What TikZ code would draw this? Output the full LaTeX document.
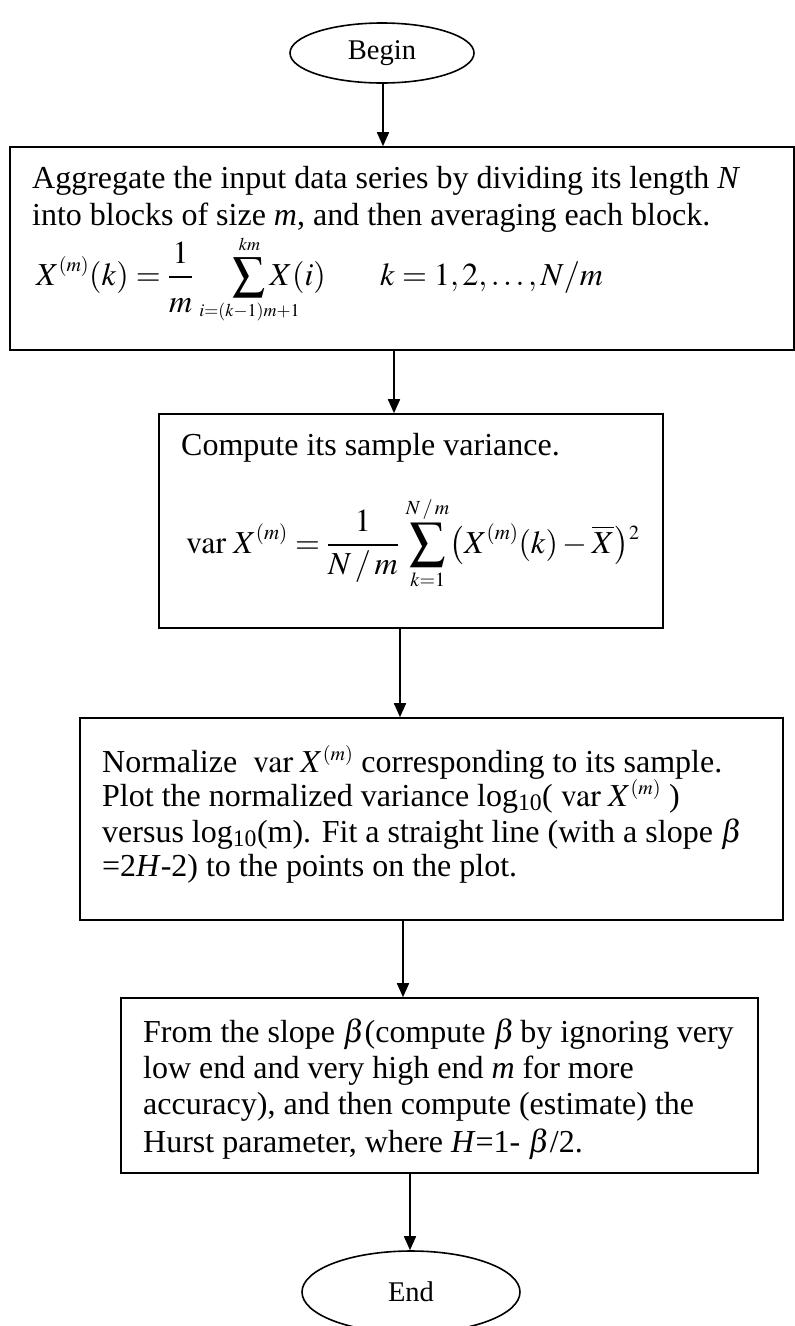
\documentclass[tikz,border=0pt]{standalone}
\usepackage{mathptmx}
\usepackage{graphicx}
\usepackage[no-math]{fontspec}
\setmainfont{Liberation Serif}
\usetikzlibrary{arrows.meta,shapes.geometric}
\newcommand\bigsigma[1]{\mathop{\vcenter{\hbox{\scalebox{#1}{$\textstyle\sum$}}}}}
\newcommand\smm[2]{\hbox{\fontsize{#1}{#1}\selectfont$#2$}}
\newcommand\zclap[2]{\hbox to 0pt{\hss\fontsize{#1}{#1}\selectfont$#2$\hss}}
\begin{document}
\begin{tikzpicture}[x=1pt,y=-1pt,
  box/.style={draw, line width=1.6pt, inner sep=0, minimum width=#1},
  term/.style={draw, ellipse, line width=1.6pt, inner sep=0, font=\fontsize{28.5}{32}\selectfont},
  arr/.style={line width=1.6pt, -{Triangle[length=14pt,width=12pt]}},
  txt/.style={anchor=base west, inner sep=0, font=\fontsize{32}{37}\selectfont}]
\useasboundingbox (0,0) rectangle (795,1326);
% terminals
\node[term, minimum width=184pt, minimum height=60pt] (begin) at (382,53) {Begin};
\node[term, minimum width=218pt, minimum height=82pt] (end) at (411,1292) {End};
% boxes
\node[box=784pt, minimum height=203pt] (b1) at (402,248.5) {};
\node[box=504pt, minimum height=214pt] (b2) at (411,521) {};
\node[box=703pt, minimum height=202pt] (b3) at (431.5,819) {};
\node[box=637pt, minimum height=175pt] (b4) at (439.5,1085.5) {};
% arrow columns
\coordinate (x1) at (383,0);
\coordinate (x2) at (394,0);
\coordinate (x3) at (400,0);
\coordinate (x4) at (403,0);
\coordinate (x5) at (410,0);
% box 1 text
\node[txt] (t1a) at (32,188) {Aggregate the input data series by dividing its length \textit{N}};
\node[txt] (t1b) at (32,225) {into blocks of size \textit{m}, and then averaging each block.};
\node[txt] (t1c) at (36,285) {$\displaystyle X^{\smm{20}{(m)}}(k)=\frac{1}{\lower6pt\hbox{$m$}}\hspace{36pt}\bigsigma{1.45}\limits_{\zclap{18}{i{=}(k{-}1)m{+}1}}^{\smm{18}{km}}X(i)$};
\node[txt] (t1d) at (380,285) {$k=1,2,\ldots,N/m$};
% box 2 text
\node[txt] (t2a) at (181,455) {Compute its sample variance.};
\node[txt] (t2b) at (186,553) {$\displaystyle \mathrm{var}\;X^{\smm{21}{(m)}}=\frac{1}{N\,/\,m}\,\bigsigma{1.6}\limits_{\smm{20}{k{=}1}}^{\smm{20}{N\,/\,m}}\bigl(X^{\smm{21}{(m)}}(k)-\overline{X}\bigr){}^{\smm{20}{2}}$};
% box 3 text
\node[txt] (t3a) at (102,772) {Normalize \ $\mathrm{var}\;X^{\smm{20}{(m)}}$ corresponding to its sample.};
\node[txt] (t3b) at (102,806) {Plot the normalized variance log\textsubscript{10}( $\mathrm{var}\;X^{\smm{20}{(m)}}$ )};
\node[txt] (t3c) at (102,842) {versus log\textsubscript{10}(m). Fit a straight line (with a slope $\beta$};
\node[txt] (t3d) at (102,876) {=2\textit{H}-2) to the points on the plot.};
% box 4 text
\node[txt] (t4a) at (143,1042) {From the slope $\beta$(compute $\beta$\,by ignoring very};
\node[txt] (t4b) at (143,1078) {low end and very high end \textit{m} for more};
\node[txt] (t4c) at (143,1114) {accuracy), and then compute (estimate) the};
\node[txt] (t4d) at (143,1152) {Hurst parameter, where \textit{H}=1- $\beta$/2.};
% connectors
\draw[arr] (begin.south -| x1) -- (b1.north -| x1);
\draw[arr] (b1.south -| x2) -- (b2.north -| x2);
\draw[arr] (b2.south -| x3) -- (b3.north -| x3);
\draw[arr] (b3.south -| x4) -- (b4.north -| x4);
\draw[arr] (b4.south -| x5) -- (end.north -| x5);
\end{tikzpicture}
\end{document}
